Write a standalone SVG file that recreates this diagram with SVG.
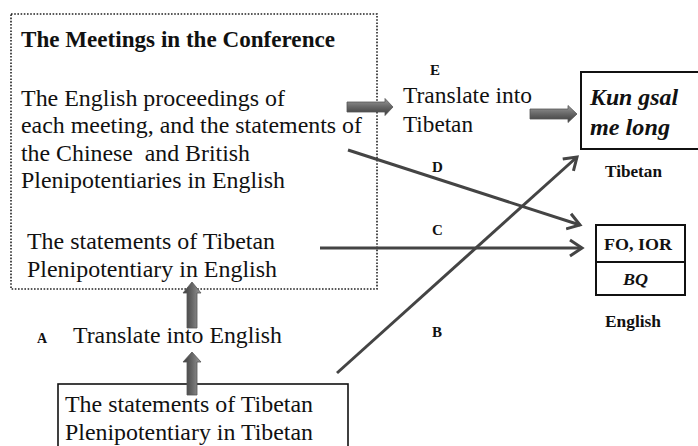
<svg xmlns="http://www.w3.org/2000/svg" width="698" height="446" viewBox="0 0 698 446">
<style>
.t{font-family:"Liberation Serif","Times New Roman",serif;font-size:24px;fill:#111}
.b{font-family:"Liberation Serif","Times New Roman",serif;font-weight:bold;fill:#111}
.bi{font-family:"Liberation Serif","Times New Roman",serif;font-weight:bold;font-style:italic;fill:#111}
.box{fill:none;stroke:#111;stroke-width:2}
.ln{fill:none;stroke:#444;stroke-width:3;marker-end:url(#ah)}
.blk{stroke:#555;stroke-width:0.8}
</style>
<defs>
<marker id="ah" markerUnits="userSpaceOnUse" markerWidth="16" markerHeight="20" refX="13" refY="10" orient="auto">
<path d="M1,2 L13,10 L1,18" fill="none" stroke="#444" stroke-width="3"/>
</marker>
<linearGradient id="gh" x1="0" y1="0" x2="0" y2="1">
<stop offset="0" stop-color="#9a9a9a"/>
<stop offset="0.5" stop-color="#666"/>
<stop offset="1" stop-color="#3a3a3a"/>
</linearGradient>
<linearGradient id="gv" x1="0" y1="0" x2="1" y2="0">
<stop offset="0" stop-color="#3a3a3a"/>
<stop offset="0.5" stop-color="#666"/>
<stop offset="1" stop-color="#9a9a9a"/>
</linearGradient>
</defs>

<g id="meetings">
<rect x="11" y="14" width="366" height="275" fill="none" stroke="#222" stroke-width="1.6" stroke-dasharray="1.6,1.6"/>
<text class="b" x="21" y="47" font-size="22.5" textLength="314" lengthAdjust="spacingAndGlyphs">The Meetings in the Conference</text>
<text class="t" x="21" y="106" textLength="264" lengthAdjust="spacingAndGlyphs">The English proceedings of</text>
<text class="t" x="21" y="133" textLength="341" lengthAdjust="spacingAndGlyphs">each meeting, and the statements of</text>
<text class="t" x="21" y="161" textLength="229" lengthAdjust="spacingAndGlyphs" xml:space="preserve">the Chinese  and British</text>
<text class="t" x="21" y="188" textLength="264" lengthAdjust="spacingAndGlyphs">Plenipotentiaries in English</text>
<text class="t" x="27" y="249" textLength="248" lengthAdjust="spacingAndGlyphs">The statements of Tibetan</text>
<text class="t" x="27" y="277" textLength="250" lengthAdjust="spacingAndGlyphs">Plenipotentiary in English</text>
</g>

<g id="translate-english">
<text class="b" x="37" y="343" font-size="14">A</text>
<text class="t" x="73" y="343" textLength="209" lengthAdjust="spacingAndGlyphs">Translate into English</text>
</g>

<g id="tibetan-statements">
<rect x="58" y="384" width="290" height="70" fill="#fff" stroke="#111" stroke-width="1.6"/>
<text class="t" x="65" y="412" textLength="248" lengthAdjust="spacingAndGlyphs">The statements of Tibetan</text>
<text class="t" x="65" y="440" textLength="248" lengthAdjust="spacingAndGlyphs">Plenipotentiary in Tibetan</text>
</g>

<g id="translate-tibetan">
<text class="b" x="430" y="75" font-size="15">E</text>
<text class="t" x="403" y="103" textLength="129" lengthAdjust="spacingAndGlyphs">Translate into</text>
<text class="t" x="403" y="132" textLength="70" lengthAdjust="spacingAndGlyphs">Tibetan</text>
</g>

<g id="kun-gsal">
<rect x="581" y="72" width="130" height="77" class="box"/>
<text class="bi" x="590" y="105" font-size="24" textLength="88" lengthAdjust="spacingAndGlyphs">Kun gsal</text>
<text class="bi" x="590" y="135" font-size="24" textLength="80" lengthAdjust="spacingAndGlyphs">me long</text>
<text class="b" x="605" y="177" font-size="17" textLength="57" lengthAdjust="spacingAndGlyphs">Tibetan</text>
</g>

<g id="fo-ior">
<rect x="596" y="225" width="89" height="70" class="box"/>
<line x1="596" y1="262" x2="685" y2="262" stroke="#111" stroke-width="2"/>
<text class="b" x="604" y="250" font-size="17.5" textLength="68" lengthAdjust="spacingAndGlyphs">FO, IOR</text>
<text class="bi" x="623" y="285" font-size="17.5" textLength="25" lengthAdjust="spacingAndGlyphs">BQ</text>
<text class="b" x="605" y="327" font-size="17" textLength="56" lengthAdjust="spacingAndGlyphs">English</text>
</g>

<g id="connectors">
<line class="ln" x1="348" y1="150" x2="580" y2="225"/>
<line class="ln" x1="320" y1="248" x2="582" y2="248"/>
<line class="ln" x1="337" y1="373" x2="577" y2="157"/>
<path class="blk" fill="url(#gh)" d="M347,102 L385,102 L385,98.5 L393,107 L385,115.5 L385,112 L347,112 Z"/>
<path class="blk" fill="url(#gh)" d="M530,109 L568,109 L568,105.5 L577,114 L568,122.5 L568,119 L530,119 Z"/>
<path class="blk" fill="url(#gv)" d="M187,328 L187,293 L183,293 L192,282 L201,293 L197,293 L197,328 Z"/>
<path class="blk" fill="url(#gv)" d="M187,395 L187,362 L183,362 L192,352 L201,362 L197,362 L197,395 Z"/>
<text class="b" x="432" y="172" font-size="15">D</text>
<text class="b" x="432" y="235" font-size="15">C</text>
<text class="b" x="432" y="337" font-size="15">B</text>
</g>
</svg>
